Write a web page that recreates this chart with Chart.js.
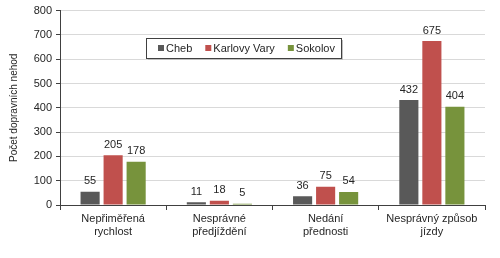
<!DOCTYPE html>
<html>
<head>
<meta charset="utf-8">
<script src="https://cdn.jsdelivr.net/npm/chart.js@4"></script>
<style>
  html, body { margin: 0; padding: 0; background: #fff; }
  #wrap { width: 500px; height: 258px; position: relative; }
</style>
</head>
<body>
<div id="wrap"><canvas id="chart"></canvas></div>
<script>
// Data
const categories = [
    ["Nepřiměřená", "rychlost"],
    ["Nesprávné", "předjíždění"],
    ["Nedání", "přednosti"],
    ["Nesprávný způsob", "jízdy"]
];
const seriesNames = ["Cheb", "Karlovy Vary", "Sokolov"];
const cheb = [55, 11, 36, 432];
const karlovyVary = [205, 18, 75, 675];
const sokolov = [178, 5, 54, 404];
const yTicks = [0, 100, 200, 300, 400, 500, 600, 700, 800];
const colors = ["#595959", "#C0504D", "#77933C"];

const FONT = "'Liberation Sans', Arial, sans-serif";
const TEXT = "#262626";

// value labels above each bar
const valueLabels = {
    id: "valueLabels",
    afterDatasetsDraw(chart) {
        const ctx = chart.ctx;
        ctx.save();
        ctx.font = "11px " + FONT;
        ctx.fillStyle = TEXT;
        ctx.textAlign = "center";
        ctx.textBaseline = "bottom";
        chart.data.datasets.forEach((ds, i) => {
            chart.getDatasetMeta(i).data.forEach((bar, j) => {
                ctx.fillText(ds.data[j], bar.x, bar.y - 5);
            });
        });
        ctx.restore();
    }
};

// legend box floating inside the plot
const boxLegend = {
    id: "boxLegend",
    afterDraw(chart) {
        const ctx = chart.ctx;
        const x = 146, y = 38, w = 195, h = 20;
        ctx.save();
        ctx.fillStyle = "#bfbfbf";
        ctx.fillRect(x + 2, y + 2, w, h);
        ctx.fillStyle = "#fff";
        ctx.fillRect(x, y, w, h);
        ctx.strokeStyle = "#404040";
        ctx.lineWidth = 1;
        ctx.strokeRect(x + 0.5, y + 0.5, w, h);
        ctx.font = "11px " + FONT;
        ctx.textBaseline = "middle";
        let cx = x + 12;
        chart.data.datasets.forEach((ds) => {
            ctx.fillStyle = ds.backgroundColor;
            ctx.fillRect(cx, y + h / 2 - 3, 6, 6);
            ctx.fillStyle = TEXT;
            ctx.fillText(ds.label, cx + 8, y + h / 2 + 1);
            cx += 8 + ctx.measureText(ds.label).width + 13;
        });
        ctx.restore();
    }
};

new Chart(document.getElementById("chart"), {
    type: "bar",
    data: {
        labels: categories,
        datasets: [
            { label: seriesNames[0], data: cheb, backgroundColor: colors[0] },
            { label: seriesNames[1], data: karlovyVary, backgroundColor: colors[1] },
            { label: seriesNames[2], data: sokolov, backgroundColor: colors[2] }
        ]
    },
    options: {
        responsive: true,
        maintainAspectRatio: false,
        animation: false,
        datasets: {
            bar: { categoryPercentage: 0.65, barPercentage: 0.83 }
        },
        layout: { padding: { top: 7, right: 15, bottom: 0, left: 0 } },
        plugins: {
            legend: { display: false },
            tooltip: { enabled: false }
        },
        scales: {
            y: {
                min: 0,
                max: 800,
                afterFit: (s) => { s.width = 60; },
                afterBuildTicks: (s) => { s.ticks = yTicks.map(v => ({ value: v })); },
                ticks: { font: { family: FONT, size: 11 }, color: TEXT, padding: 4 },
                grid: { color: "#d9d9d9", tickColor: "#404040", tickLength: 4 },
                border: { color: "#404040" },
                title: {
                    display: true,
                    text: "Počet dopravních nehod",
                    font: { family: FONT, size: 10 },
                    color: TEXT,
                    padding: { top: 8, bottom: 0 }
                }
            },
            x: {
                afterFit: (s) => { s.height = 53; },
                ticks: { font: { family: FONT, size: 11 }, color: TEXT, padding: 2, maxRotation: 0 },
                grid: { offset: true, drawOnChartArea: false, color: "#404040", tickLength: 5 },
                border: { color: "#404040" }
            }
        }
    },
    plugins: [valueLabels, boxLegend]
});
</script>
</body>
</html>
